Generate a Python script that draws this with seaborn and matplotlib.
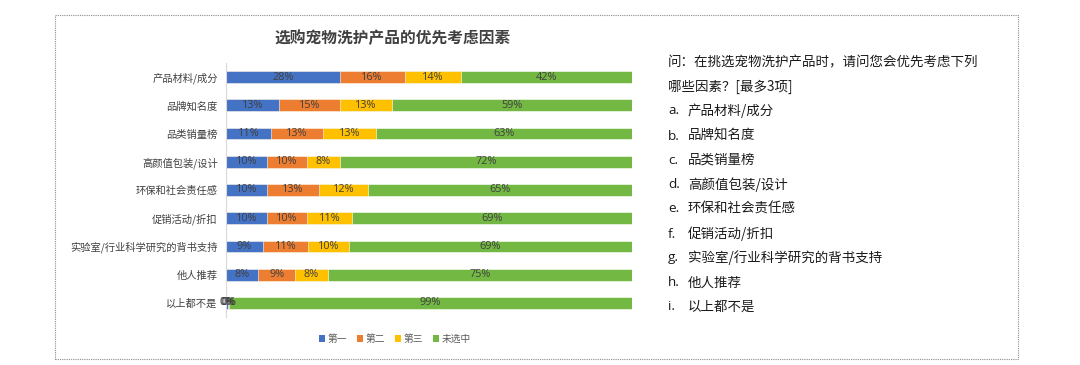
import matplotlib
matplotlib.use("Agg")
import matplotlib.pyplot as plt
from matplotlib.patches import Rectangle, Patch
import seaborn as sns
import pandas as pd
import numpy as np

sns.set_theme(style="white")
plt.rcParams["font.family"] = ["Noto Sans CJK SC", "DejaVu Sans"]

# data
categories = ["产品材料/成分", "品牌知名度", "品类销量榜", "高颜值包装/设计", "环保和社会责任感",
              "促销活动/折扣", "实验室/行业科学研究的背书支持", "他人推荐", "以上都不是"]
series_names = ["第一", "第二", "第三", "未选中"]
first = [28, 13, 11, 10, 10, 10, 9, 8, 0.4]
second = [16, 15, 13, 10, 13, 10, 11, 9, 0.2]
third = [14, 13, 13, 8, 12, 11, 10, 8, 0.2]
unselected = [42, 59, 63, 72, 65, 69, 69, 75, 99.2]
colors = ["#4472C4", "#ED7D31", "#FFC000", "#72B843"]

title = "选购宠物洗护产品的优先考虑因素"
question = ["问：在挑选宠物洗护产品时，请问您会优先考虑下列", "哪些因素？[最多3项]"]
letters = ["a.", "b.", "c.", "d.", "e.", "f.", "g.", "h.", "i."]

df = pd.DataFrame({"cat": categories, "第一": first, "第二": second,
                   "第三": third, "未选中": unselected})
vals = df[series_names].to_numpy()
# 100% stacked like Excel
pct = vals / vals.sum(axis=1, keepdims=True) * 100
cum = np.cumsum(pct, axis=1)

fig = plt.figure(figsize=(10.8, 3.65), dpi=100)
ax = fig.add_axes([226 / 1080, 1 - 317 / 365, 406 / 1080, 254 / 365])

# draw longest cumulative first so shorter ones sit on top
for k in range(3, -1, -1):
    plot_df = pd.DataFrame({"cat": categories, "v": cum[:, k]})
    sns.barplot(data=plot_df, x="v", y="cat", orient="h", color=colors[k],
                saturation=1, width=0.42, ax=ax, edgecolor="white", linewidth=0.4)

for i in range(len(categories)):
    for k in range(4):
        xc = cum[i, k] - pct[i, k] / 2
        ax.text(xc, i, f"{vals[i, k]:.0f}%", ha="center", va="center",
                fontsize=7.8, color="#404040", family=["Open Sans", "DejaVu Sans"])

ax.set_xlim(0, 100)
ax.set_ylim(8.5, -0.5)
ax.set_xlabel("")
ax.set_ylabel("")
ax.set_xticks([])
ax.tick_params(axis="y", length=0, pad=6, labelsize=7.4, labelcolor="#404040")
for s in ["top", "right", "bottom"]:
    ax.spines[s].set_visible(False)
ax.spines["left"].set_color("#D9D9D9")
ax.spines["left"].set_linewidth(0.8)

fig.text(393 / 1080, 1 - 38 / 365, title, ha="center", va="center",
         fontsize=11.3, fontweight="bold", color="#404040")

handles = [Patch(facecolor=c, edgecolor="none") for c in colors]
fig.legend(handles, series_names, loc="center", bbox_to_anchor=(395 / 1080, 1 - 339 / 365),
           ncol=4, frameon=False, fontsize=7, handlelength=0.6, handleheight=0.6,
           handletextpad=0.3, columnspacing=1.0, labelcolor="#595959")

# question text on the right
ys = [62, 87, 111, 136, 160, 185, 209, 234, 258, 283, 307]
for j, line in enumerate(question):
    fig.text(668 / 1080, 1 - ys[j] / 365, line, ha="left", va="center",
             fontsize=9.7, color="#1a1a1a")
for j, (lt, cat) in enumerate(zip(letters, categories)):
    y = 1 - ys[j + 2] / 365
    fig.text(668 / 1080, y, lt, ha="left", va="center", fontsize=9.7, color="#1a1a1a",
             family=["Open Sans", "DejaVu Sans"])
    fig.text(688 / 1080, y, cat, ha="left", va="center", fontsize=9.7, color="#1a1a1a")

# dotted frame
fig.patches.append(Rectangle((55 / 1080, 1 - 359 / 365), (1018 - 55) / 1080, (359 - 15) / 365,
                             transform=fig.transFigure, fill=False, edgecolor="#8C8C8C",
                             linestyle=(0, (1, 1)), linewidth=0.8))

fig.savefig("out.png", dpi=100)
